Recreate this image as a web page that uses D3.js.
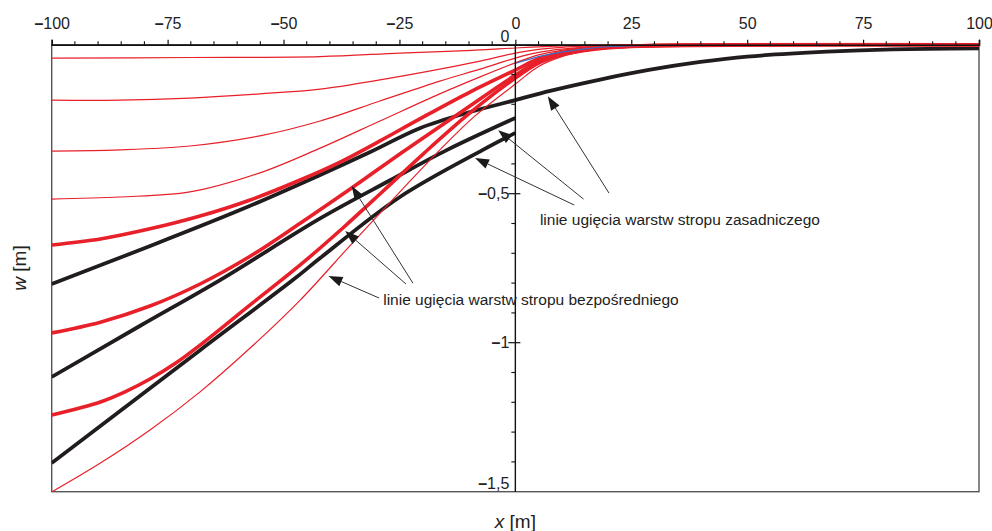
<!DOCTYPE html>
<html><head><meta charset="utf-8">
<script src="https://cdn.jsdelivr.net/npm/d3@7"></script>
<style>body{margin:0;background:#fff}svg{display:block;font-family:"Liberation Sans",Arial,sans-serif}</style>
</head><body><svg id="c" width="992" height="531"></svg>
<script>
// ---- axes data ----
const xMajor=[-100,-75,-50,-25,0,25,50,75,100];
const xMajorLabels=["–100","–75","–50","–25","0","25","50","75","100"];
const xMinor=d3.range(-100,101,5);
const yMajor=[0,-0.5,-1,-1.5];
const yMajorLabels=["0","–0,5","–1","–1,5"];
const yMinor=d3.range(0,16).map(i=>-i/10);

// ---- black curves (main roof) ----
const b1X=[-100,-81,-59.4,-42.1,-31.3,-20.6,-9.8,0,7.5,18.3,29.1,39.9,50,67.2,81.4,100];
const b1W=[-0.803,-0.689,-0.555,-0.437,-0.360,-0.280,-0.226,-0.186,-0.155,-0.117,-0.084,-0.058,-0.040,-0.0235,-0.0154,-0.012];
const b2X=[-100,-81,-63.7,-42.1,-27,-14.7,0];
const b2W=[-1.115,-0.944,-0.790,-0.583,-0.455,-0.353,-0.246];
const b3X=[-100,-68,-48,-42.1,-24.9,-7,0];
const b3W=[-1.404,-1.025,-0.790,-0.716,-0.511,-0.353,-0.296];

// ---- red curves (immediate roof) ----
const leftX=[-100,-85.3,-70.2,-55.1,-42.1,-29.2,-16.3,-7.6,0];
const rightX=[5,10,15,20,30,100];
const r1X=[-100,-70.2,-42.1,-24.9,-12,0].concat(rightX);
const r1W=[-0.045,-0.043,-0.040,-0.028,-0.021,-0.011,-0.007,-0.004,-0.002,-0.001,0,0];
const r2X=leftX.concat(rightX);
const r2W=[-0.186,-0.186,-0.179,-0.165,-0.149,-0.118,-0.082,-0.055,-0.028,-0.016,-0.009,-0.005,-0.003,-0.001,0];
const r3X=leftX.concat(rightX);
const r3W=[-0.357,-0.353,-0.340,-0.306,-0.256,-0.189,-0.122,-0.082,-0.045,-0.026,-0.015,-0.008,-0.004,-0.001,0];
const r4X=leftX.concat(rightX);
const r4W=[-0.518,-0.511,-0.494,-0.430,-0.347,-0.256,-0.165,-0.108,-0.061,-0.034,-0.019,-0.010,-0.005,-0.002,0];
const r5X=[-100,-89.5,-78.8,-68,-57.2,-46.4,-37.8,-29.2,-20.6,-9.8,0].concat(rightX);
const r5W=[-0.672,-0.652,-0.618,-0.575,-0.521,-0.454,-0.394,-0.323,-0.249,-0.159,-0.085,-0.047,-0.026,-0.014,-0.008,-0.003,0];
const r6X=[-100,-89.5,-78.8,-68,-57.2,-46.4,-35.3,-24.3,-12,0].concat(rightX);
const r6W=[-0.967,-0.931,-0.877,-0.803,-0.710,-0.599,-0.481,-0.360,-0.229,-0.102,-0.056,-0.031,-0.017,-0.009,-0.003,0];
const r7X=[-100,-89.5,-84.2,-78.8,-73.4,-68,-57.2,-46.4,-37.2,-28.5,-19.9,-9.8,0].concat(rightX);
const r7W=[-1.243,-1.199,-1.165,-1.122,-1.070,-1.008,-0.873,-0.739,-0.615,-0.491,-0.367,-0.229,-0.112,-0.062,-0.034,-0.019,-0.010,-0.003,0];
const r8X=[-100,-89.5,-78.8,-68,-57.2,-46.4,-35.7,-24.9,-16.9,-8.7,0].concat(rightX);
const r8W=[-1.501,-1.404,-1.293,-1.165,-1.018,-0.857,-0.675,-0.494,-0.363,-0.239,-0.132,-0.073,-0.040,-0.022,-0.012,-0.004,0];
const blueX=[0,5,10,15,20,30];
const blueW=[-0.063,-0.040,-0.025,-0.014,-0.007,-0.002];

// ---- annotations ----
const labelMain="linie ugięcia warstw stropu zasadniczego";
const labelImm="linie ugięcia warstw stropu bezpośredniego";
const arrowsMain=[[20.2,-0.498,7.0,-0.173],[14.7,-0.518,-3.7,-0.287],[12.7,-0.538,-8.7,-0.380]];
const arrowsImm=[[-22.1,-0.800,-35.3,-0.474],[-23.6,-0.803,-36.7,-0.625],[-29.4,-0.850,-40.3,-0.776]];

const svg=d3.select("#c");
const x=d3.scaleLinear([-100,100],[51.7,979]);
const y=d3.scaleLinear([0,-1.5],[44.7,491.7]);
const zip=(xs,ws)=>xs.map((v,i)=>[v,ws[i]]);
const line=d3.line().x(d=>x(d[0])).y(d=>y(d[1])).curve(d3.curveCatmullRom.alpha(0.5));

svg.append("defs").append("clipPath").attr("id","clip").append("rect")
  .attr("x",x(-100)).attr("y",y(0)-2).attr("width",x(100)-x(-100)).attr("height",y(-1.5)-y(0)+2);

// frame
svg.append("rect").attr("x",x(-100)).attr("y",y(0)).attr("width",x(100)-x(-100)).attr("height",y(-1.5)-y(0))
  .attr("fill","none").attr("stroke","#555").attr("stroke-width",1.4);

const g=svg.append("g").attr("clip-path","url(#clip)");
const red="#e8202a", blk="#211d1e";
const curves=[
  [b1X,b1W,blk,3.8],[b2X,b2W,blk,3.8],[b3X,b3W,blk,3.8],
  [r5X,r5W,red,3.6],[r6X,r6W,red,3.6],[r7X,r7W,red,3.6],
  [r1X,r1W,red,1.2],[r2X,r2W,red,1.2],[r3X,r3W,red,1.2],[r4X,r4W,red,1.2],[r8X,r8W,red,1.2],
  [blueX,blueW,"#3d6cc0",1.1]
];
curves.forEach(c=>g.append("path").attr("d",line(zip(c[0],c[1]))).attr("fill","none")
  .attr("stroke",c[2]).attr("stroke-width",c[3]).attr("stroke-linejoin","round"));

// label helper: bold dash
function setLabel(sel,txt){
  sel.text(null);
  if(txt.startsWith("–")){sel.append("tspan").attr("font-weight","bold").text("–");sel.append("tspan").text(txt.slice(1));}
  else sel.text(txt);
}

// top axis
const topAxis=svg.append("g").attr("transform",`translate(0,${y(0)})`)
  .call(d3.axisTop(x).tickValues(xMajor).tickFormat(()=>"").tickSize(5).tickPadding(11));
topAxis.select(".domain").attr("stroke","#111").attr("stroke-width",1.6);
topAxis.selectAll(".tick line").attr("stroke","#111").attr("stroke-width",1.2);
topAxis.selectAll(".tick text").each(function(d,i){
  const t=d3.select(this).attr("font-size",16).attr("fill","#222").attr("font-family","Liberation Sans, Arial, sans-serif");
  setLabel(t,xMajorLabels[i]);
});
svg.append("g").selectAll("line").data(xMinor.filter(v=>!xMajor.includes(v))).join("line")
  .attr("x1",d=>x(d)).attr("x2",d=>x(d)).attr("y1",y(0)-3.5).attr("y2",y(0)).attr("stroke","#111").attr("stroke-width",1.1);

// y axis at x=0
const x0=x(0);
svg.append("line").attr("x1",x0).attr("x2",x0).attr("y1",y(0)).attr("y2",y(-1.5)).attr("stroke","#111").attr("stroke-width",1.4);
svg.append("g").selectAll("line").data(yMinor.filter(v=>!yMajor.some(m=>Math.abs(m-v)<1e-9))).join("line")
  .attr("x1",x0-4).attr("x2",x0).attr("y1",d=>y(d)).attr("y2",d=>y(d)).attr("stroke","#111").attr("stroke-width",1.1);
svg.append("g").selectAll("line").data(yMajor.slice(1,3)).join("line")
  .attr("x1",x0-7).attr("x2",x0+5).attr("y1",d=>y(d)).attr("y2",d=>y(d)).attr("stroke","#111").attr("stroke-width",1.2);
const yShift=[-8,0,0,-8];
svg.append("g").selectAll("text").data(yMajor).join("text")
  .attr("x",x0-6).attr("y",(d,i)=>y(d)+yShift[i]).attr("dy","0.35em").attr("text-anchor","end")
  .attr("font-size",16).attr("fill","#222").each(function(d,i){setLabel(d3.select(this),yMajorLabels[i]);});

// titles
svg.append("text").attr("x",x0).attr("y",528).attr("text-anchor","middle").attr("font-size",19).attr("fill","#222")
  .html('<tspan font-style="italic">x</tspan> [m]');
svg.append("text").attr("transform","translate(26,268) rotate(-90)").attr("text-anchor","middle").attr("font-size",19).attr("fill","#222")
  .html('<tspan font-style="italic">w</tspan> [m]');

// annotations
function arrow(a){
  const x1=x(a[0]),y1=y(a[1]),x2=x(a[2]),y2=y(a[3]);
  const ang=Math.atan2(y2-y1,x2-x1), L=14, H=5;
  const bx=x2-L*Math.cos(ang), by=y2-L*Math.sin(ang);
  svg.append("line").attr("x1",x1).attr("y1",y1).attr("x2",bx).attr("y2",by).attr("stroke","#333").attr("stroke-width",1);
  const p=[[x2,y2],[bx+H*Math.sin(ang),by-H*Math.cos(ang)],[bx-H*Math.sin(ang),by+H*Math.cos(ang)]];
  svg.append("path").attr("d","M"+p.map(q=>q.join(",")).join("L")+"Z").attr("fill","#1a1a1a");
}
arrowsMain.forEach(arrow); arrowsImm.forEach(arrow);
svg.append("text").attr("x",x(5.3)).attr("y",y(-0.605)).attr("font-size",15.5).attr("fill","#222").text(labelMain);
svg.append("text").attr("x",x(-28.5)).attr("y",y(-0.873)).attr("font-size",15.5).attr("fill","#222").text(labelImm);
</script></body></html>
